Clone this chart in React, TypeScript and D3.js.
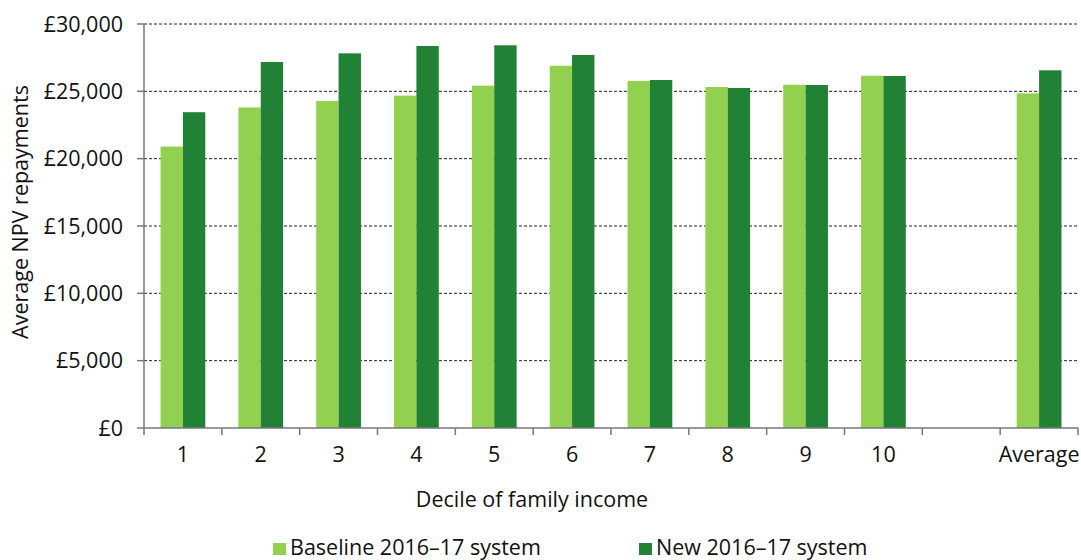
import React from "react";
import * as d3 from "d3";

const categories = ["1", "2", "3", "4", "5", "6", "7", "8", "9", "10", "", "Average"];
const baseline = [20900, 23800, 24280, 24680, 25420, 26900, 25770, 25320, 25490, 26160, null, 24850];
const newSystem = [23450, 27180, 27820, 28370, 28420, 27700, 25840, 25250, 25470, 26140, null, 26560];
const seriesNames = ["Baseline 2016–17 system", "New 2016–17 system"];
const yTicks = [0, 5000, 10000, 15000, 20000, 25000, 30000];

const W = 1081;
const H = 560;
const M = { left: 144, right: 1078, top: 24, bottom: 428 };
const colors = ["#92D050", "#218134"];
const font = "'Open Sans', sans-serif";
const fs = 21.5;

export default function App() {
  const x = d3.scaleBand<string>().domain(categories.map((c, i) => String(i))).range([M.left, M.right]);
  const y = d3.scaleLinear().domain([0, 30000]).range([M.bottom, M.top]);
  const inner = d3.scaleBand<string>().domain(["0", "1"]).range([0, x.bandwidth()]).paddingInner(0).paddingOuter(0.74);
  const fmt = (v: number) => "£" + d3.format(",")(v);
  const series = [baseline, newSystem];

  return (
    <svg width={W} height={H} style={{ position: "absolute", left: 0, top: 0, background: "#fff" }}>
      {yTicks.filter((t) => t > 0).map((t) => (
        <line key={"g" + t} x1={M.left} x2={M.right} y1={y(t)} y2={y(t)} stroke="#222" strokeWidth={1} strokeDasharray="3,2" />
      ))}
      {series.map((s, si) =>
        s.map((v, i) =>
          v == null ? null : (
            <rect
              key={si + "-" + i}
              x={(x(String(i)) as number) + (inner(String(si)) as number)}
              y={y(v)}
              width={inner.bandwidth()}
              height={y(0) - y(v)}
              fill={colors[si]}
            />
          )
        )
      )}
      {/* y axis */}
      <line x1={M.left} x2={M.left} y1={M.top} y2={M.bottom} stroke="#777" strokeWidth={1.5} />
      {yTicks.map((t) => (
        <g key={"yt" + t}>
          <line x1={M.left - 7} x2={M.left} y1={y(t)} y2={y(t)} stroke="#777" strokeWidth={1.5} />
          <text x={M.left - 21} y={y(t)} dy="0.36em" textAnchor="end" fontFamily={font} fontSize={fs} fill="#111">
            {fmt(t)}
          </text>
        </g>
      ))}
      {/* x axis */}
      <line x1={M.left} x2={M.right} y1={M.bottom} y2={M.bottom} stroke="#777" strokeWidth={1.5} />
      {categories.map((c, i) => (
        <g key={"xt" + i}>
          <line x1={(x(String(i)) as number) + x.bandwidth()} x2={(x(String(i)) as number) + x.bandwidth()} y1={M.bottom} y2={M.bottom + 7} stroke="#777" strokeWidth={1.5} />
          <text x={(x(String(i)) as number) + x.bandwidth() / 2} y={462} textAnchor="middle" fontFamily={font} fontSize={fs} fill="#111">
            {c}
          </text>
        </g>
      ))}
      <line x1={M.left} x2={M.left} y1={M.bottom} y2={M.bottom + 7} stroke="#777" strokeWidth={1.5} />
      <text x={532} y={507} textAnchor="middle" fontFamily={font} fontSize={fs} fill="#111">
        Decile of family income
      </text>
      <text transform={`translate(28,212) rotate(-90)`} textAnchor="middle" fontFamily={font} fontSize={fs} fill="#111">
        Average NPV repayments
      </text>
      {/* legend */}
      {seriesNames.map((n, i) => (
        <g key={"lg" + i} transform={`translate(${[273, 639][i]},543)`}>
          <rect x={0} y={0} width={13} height={12} fill={colors[i]} />
          <text x={17} y={12} fontFamily={font} fontSize={fs} fill="#111">
            {n}
          </text>
        </g>
      ))}
    </svg>
  );
}
